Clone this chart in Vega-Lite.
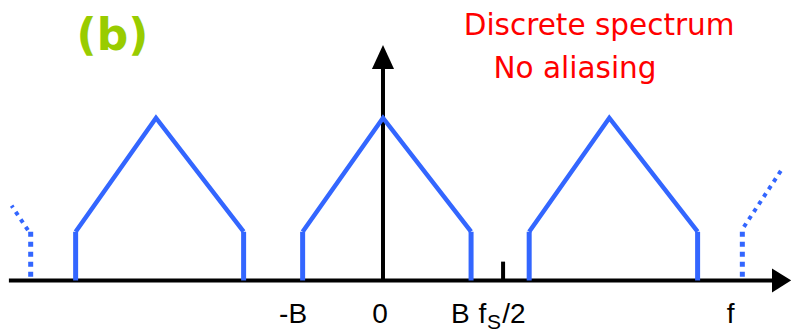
{
  "$schema": "https://vega.github.io/schema/vega-lite/v6.json",
  "width": 791,
  "height": 332,
  "autosize": "none",
  "padding": 0,
  "background": "white",
  "config": {"view": {"stroke": null}},
  "datasets": {
    "copies": [
      {"copy": "k=-1", "f": -13.54, "a": 0.30},
      {"copy": "k=-1", "f": -10.0, "a": 1.0},
      {"copy": "k=-1", "f": -6.14, "a": 0.30},
      {"copy": "k=0", "f": -3.54, "a": 0.30},
      {"copy": "k=0", "f": 0.0, "a": 1.0},
      {"copy": "k=0", "f": 3.88, "a": 0.30},
      {"copy": "k=1", "f": 6.44, "a": 0.30},
      {"copy": "k=1", "f": 9.97, "a": 1.0},
      {"copy": "k=1", "f": 13.86, "a": 0.30}
    ],
    "edges": [
      {"f": -13.54, "a": 0.30, "f2": -13.54, "a2": 0},
      {"f": -6.14, "a": 0.30, "f2": -6.14, "a2": 0},
      {"f": -3.54, "a": 0.30, "f2": -3.54, "a2": 0},
      {"f": 3.88, "a": 0.30, "f2": 3.88, "a2": 0},
      {"f": 6.44, "a": 0.30, "f2": 6.44, "a2": 0},
      {"f": 13.86, "a": 0.30, "f2": 13.86, "a2": 0}
    ],
    "partialEdges": [
      {"f": -15.52, "a": 0.30, "f2": -15.52, "a2": 0},
      {"f": 15.83, "a": 0.30, "f2": 15.83, "a2": 0}
    ],
    "partialSlopes": [
      {"f": -15.64, "a": 0.31, "f2": -16.36, "a2": 0.46},
      {"f": 15.90, "a": 0.33, "f2": 17.60, "a2": 0.69}
    ],
    "axes": [
      {"f": -16.48, "a": 0, "f2": 17.3, "a2": 0},
      {"f": 0, "a": 0, "f2": 0, "a2": 1.33},
      {"f": 5.29, "a": 0, "f2": 5.29, "a2": 0.116}
    ],
    "labels": [
      {"text": "-B", "f": -3.96, "a": -0.262, "size": 28},
      {"text": "0", "f": -0.13, "a": -0.262, "size": 28},
      {"text": "B", "f": 3.41, "a": -0.262, "size": 28},
      {"text": "f", "f": 4.38, "a": -0.262, "size": 28},
      {"text": "S", "f": 4.89, "a": -0.296, "size": 21},
      {"text": "/2", "f": 5.77, "a": -0.262, "size": 28},
      {"text": "f", "f": 15.31, "a": -0.262, "size": 28}
    ]
  },
  "encoding": {
    "x": {"field": "f", "type": "quantitative", "axis": null,
          "scale": {"domain": [-16.872, 17.974], "nice": false, "zero": false}},
    "y": {"field": "a", "type": "quantitative", "axis": null,
          "scale": {"domain": [-0.317, 1.726], "nice": false, "zero": false}}
  },
  "layer": [
    {
      "data": {"name": "axes"},
      "mark": {"type": "rule", "color": "black", "strokeWidth": 4},
      "encoding": {
        "x2": {"field": "f2"},
        "y2": {"field": "a2"}
      }
    },
    {
      "data": {"values": [{"f": 17.56, "a": 0}]},
      "mark": {"type": "point", "shape": "M0.8,0L-0.8,-1L-0.8,1Z", "size": 576,
               "filled": true, "color": "black", "opacity": 1}
    },
    {
      "data": {"values": [{"f": 0, "a": 1.375}]},
      "mark": {"type": "point", "shape": "M0,-1L-0.92,1L0.92,1Z", "size": 576,
               "filled": true, "color": "black", "opacity": 1}
    },
    {
      "data": {"name": "copies"},
      "mark": {"type": "line", "color": "#3366ff", "strokeWidth": 4.5},
      "encoding": {"detail": {"field": "copy"}}
    },
    {
      "data": {"name": "edges"},
      "mark": {"type": "rule", "color": "#3366ff", "strokeWidth": 5},
      "encoding": {
        "x2": {"field": "f2"},
        "y2": {"field": "a2"}
      }
    },
    {
      "data": {"name": "partialEdges"},
      "mark": {"type": "rule", "color": "#3366ff", "strokeWidth": 5, "strokeDash": [5, 5]},
      "encoding": {
        "x2": {"field": "f2"},
        "y2": {"field": "a2"}
      }
    },
    {
      "data": {"name": "partialSlopes"},
      "mark": {"type": "rule", "color": "#3366ff", "strokeWidth": 4, "strokeDash": [4, 5]},
      "encoding": {
        "x2": {"field": "f2"},
        "y2": {"field": "a2"}
      }
    },
    {
      "data": {"name": "labels"},
      "mark": {"type": "text", "font": "Liberation Sans", "color": "black",
               "align": "center", "baseline": "alphabetic"},
      "encoding": {
        "text": {"field": "text"},
        "size": {"field": "size", "type": "quantitative", "scale": null}
      }
    },
    {
      "data": {"values": [{"text": "(b)", "f": -11.92, "a": 1.418}]},
      "mark": {"type": "text", "font": "DejaVu Sans", "fontWeight": "bold", "fontSize": 44,
               "color": "#99cc00", "align": "center", "baseline": "alphabetic"},
      "encoding": {"text": {"field": "text"}}
    },
    {
      "data": {"values": [
        {"text": "Discrete spectrum", "f": 9.52, "a": 1.511},
        {"text": "No aliasing", "f": 8.46, "a": 1.246}
      ]},
      "mark": {"type": "text", "font": "Comic Sans MS, DejaVu Sans, sans-serif", "fontSize": 29.5,
               "color": "#ff0000", "align": "center", "baseline": "alphabetic"},
      "encoding": {"text": {"field": "text"}}
    }
  ]
}
